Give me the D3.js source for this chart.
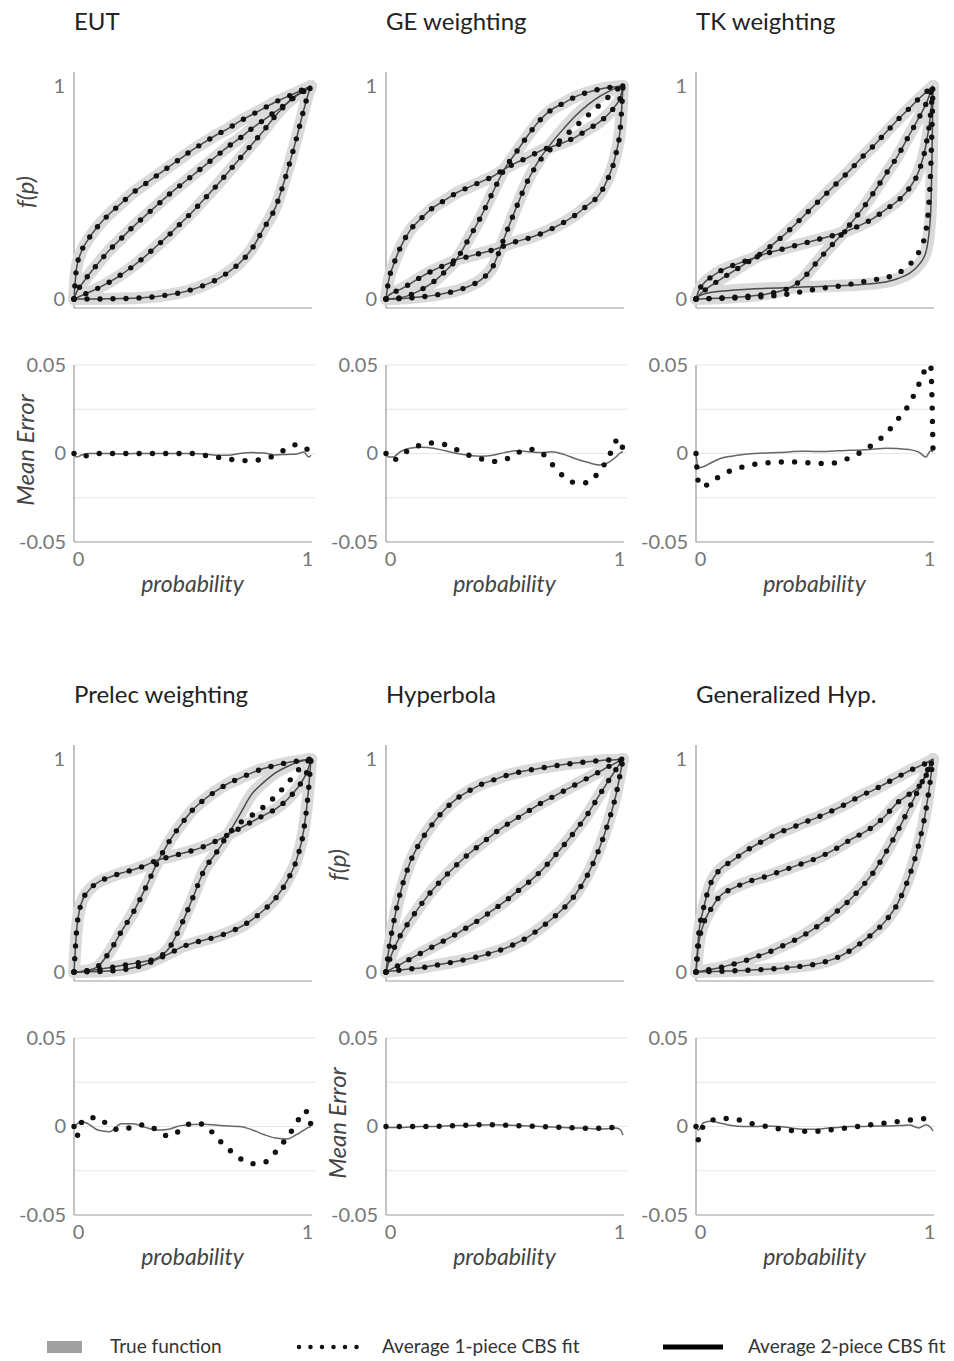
<!DOCTYPE html>
<html>
<head>
<meta charset="utf-8">
<script src="https://cdn.jsdelivr.net/npm/d3@7"></script>
<style>
  body { margin: 0; background: #fff; }
  text { font-family: Lato, "Open Sans", sans-serif; }
</style>
</head>
<body>
<svg id="chart" width="954" height="1361"></svg>
<script>
// probability grid shared by every series
const P = [0, .01, .03, .06, .1, .15, .2, .25, .3, .35, .4, .45, .5, .55, .6, .65, .7, .75, .8, .85, .9, .94, .97, .99, 1];

const titles = ["EUT", "GE weighting", "TK weighting", "Prelec weighting", "Hyperbola", "Generalized Hyp."];

// true functions f(p), four per panel
const eutTrue = [
  [0, .14, .22, .28, .34, .40, .45, .50, .54, .58, .62, .66, .70, .735, .77, .80, .835, .865, .895, .925, .95, .97, .985, .995, 1],
  [0, .03, .065, .11, .165, .23, .285, .34, .39, .44, .49, .535, .58, .625, .67, .715, .755, .8, .84, .88, .92, .955, .975, .99, 1],
  [0, .005, .015, .03, .05, .08, .115, .155, .2, .25, .30, .355, .41, .47, .53, .595, .66, .725, .79, .86, .92, .96, .98, .995, 1],
  [0, 0, 0, 0, 0, .001, .002, .004, .007, .012, .02, .03, .045, .065, .09, .125, .17, .235, .33, .43, .60, .76, .89, .97, 1]
];
const geTrue = [
  [0, .08, .155, .24, .32, .38, .43, .465, .50, .525, .55, .575, .61, .64, .665, .695, .715, .735, .76, .795, .83, .87, .91, .95, 1],
  [0, 0, .002, .006, .018, .045, .08, .13, .19, .285, .385, .50, .61, .69, .77, .84, .89, .92, .95, .97, .985, .993, .997, .999, 1],
  [0, .015, .03, .045, .07, .105, .135, .16, .185, .20, .215, .23, .25, .27, .285, .305, .33, .36, .395, .44, .49, .575, .68, .82, 1],
  [0, 0, 0, .002, .005, .01, .017, .027, .04, .06, .09, .15, .29, .43, .56, .66, .735, .80, .86, .91, .95, .975, .99, .997, 1]
];
const tkTrue = [
  [0, .015, .035, .06, .09, .125, .16, .195, .235, .28, .33, .385, .44, .495, .55, .605, .665, .72, .78, .84, .895, .94, .97, .99, 1],
  [0, .035, .07, .10, .13, .155, .175, .195, .215, .23, .245, .26, .275, .29, .305, .325, .35, .38, .42, .46, .52, .60, .72, .87, 1],
  [0, 0, .001, .002, .004, .007, .011, .016, .024, .035, .055, .095, .16, .225, .285, .35, .42, .50, .585, .67, .77, .85, .915, .97, 1],
  [0, .012, .022, .03, .036, .041, .045, .048, .05, .052, .054, .056, .058, .06, .062, .065, .068, .073, .08, .095, .12, .16, .22, .4, 1]
];
const prelecTrue = [
  [0, .18, .32, .38, .42, .445, .465, .48, .50, .525, .54, .555, .57, .59, .615, .645, .675, .705, .735, .765, .81, .86, .91, .96, 1],
  [0, 0, .002, .008, .025, .095, .19, .28, .39, .51, .61, .69, .76, .81, .85, .885, .91, .935, .955, .97, .983, .99, .995, .999, 1],
  [0, 0, .002, .006, .012, .02, .03, .04, .05, .065, .11, .215, .345, .48, .56, .645, .74, .835, .89, .935, .965, .983, .993, .998, 1],
  [0, 0, 0, .001, .002, .005, .01, .02, .035, .06, .085, .115, .135, .15, .165, .185, .21, .245, .29, .345, .43, .53, .67, .86, 1]
];
const hypTrue = [
  [0, .09, .22, .37, .51, .62, .70, .765, .815, .85, .88, .90, .92, .935, .947, .957, .966, .974, .981, .987, .992, .995, .997, .999, 1],
  [0, .04, .10, .17, .24, .32, .39, .45, .505, .555, .60, .645, .685, .72, .755, .79, .82, .85, .88, .91, .94, .965, .982, .994, 1],
  [0, .006, .018, .035, .06, .09, .12, .15, .18, .215, .25, .29, .33, .375, .42, .47, .53, .595, .665, .74, .83, .90, .95, .985, 1],
  [0, .002, .005, .009, .014, .02, .03, .04, .05, .062, .075, .092, .11, .135, .165, .205, .25, .30, .365, .455, .58, .71, .83, .94, 1]
];
const genhypTrue = [
  [0, .16, .29, .41, .48, .52, .56, .595, .625, .655, .675, .70, .72, .745, .77, .80, .83, .855, .885, .915, .945, .965, .98, .993, 1],
  [0, .12, .22, .29, .355, .39, .415, .435, .45, .47, .49, .51, .53, .555, .585, .62, .65, .685, .735, .795, .835, .87, .92, .97, 1],
  [0, .002, .006, .012, .02, .035, .05, .07, .09, .115, .14, .17, .205, .245, .29, .34, .40, .47, .56, .66, .77, .86, .93, .98, 1],
  [0, 0, .001, .002, .003, .005, .007, .01, .013, .017, .022, .028, .036, .05, .07, .10, .14, .185, .24, .32, .45, .60, .76, .91, 1]
];

// average 1-piece fits where they visibly leave the true function (null = same as true)
const geFit1 = [null, null, null,
  [0, 0, 0, .002, .005, .01, .017, .027, .04, .06, .09, .15, .29, .43, .56, .65, .71, .76, .81, .86, .91, .95, .98, .995, 1]];
const tkFit1 = [null, null, null,
  [0, 0, .001, .002, .003, .004, .006, .009, .013, .018, .025, .035, .045, .053, .06, .069, .08, .09, .1, .12, .16, .22, .32, .6, 1]];
const prelecFit1 = [null, null,
  [0, 0, .002, .006, .012, .02, .03, .04, .05, .065, .11, .215, .345, .48, .56, .645, .70, .735, .775, .825, .885, .94, .975, .993, 1],
  null];

// mean error: 1-piece (dots) and 2-piece (line)
const eutErr1 = [0, -.001, -.002, -.001, 0, 0, 0, 0, 0, 0, 0, 0, 0, -.001, -.002, -.003, -.004, -.004, -.003, -.001, .003, .005, .004, .002, .002];
const eutErr2 = [0, -.002, -.001, 0, 0, 0, -.0003, 0, 0, 0, 0, 0, 0, -.0003, -.001, -.001, 0, .0005, .0003, -.0008, -.0005, -.0003, .0008, -.002, -.001];
const geErr1 = [0, -.002, -.004, -.001, .002, .005, .006, .005, .002, -.001, -.003, -.0045, -.0035, 0, .0025, .001, -.006, -.013, -.0165, -.0165, -.01, -.002, .007, .008, .001];
const geErr2 = [0, -.002, -.002, .001, .003, .0035, .003, .0015, 0, -.001, -.0015, -.001, .0005, .0015, .001, .0005, .001, -.0005, -.003, -.005, -.0065, -.005, -.002, .0005, .001];
const tkErr1 = [0, -.016, -.019, -.016, -.013, -.0095, -.0075, -.006, -.0053, -.0048, -.0047, -.005, -.0055, -.0056, -.005, -.0022, .001, .0055, .011, .019, .028, .039, .048, .05, .002];
const tkErr2 = [0, -.008, -.0075, -.0055, -.003, -.0015, -.0005, 0, .0003, .0005, .001, .0013, .0012, .0012, .0015, .0018, .002, .0025, .003, .0028, .0022, .0008, -.002, .0015, .001];
const prelecErr1 = [0, -.006, .002, .005, .005, 0, -.002, 0, .001, -.002, -.0055, -.002, .002, .001, -.006, -.0125, -.018, -.021, -.0205, -.0145, -.006, .002, .0088, .0075, 0];
const prelecErr2 = [0, .001, .003, .0015, -.002, -.003, .0015, .0015, -.0005, -.002, -.0015, .0005, .0012, .0013, .0008, .0003, 0, -.0018, -.0045, -.0065, -.007, -.0045, -.002, -.0005, 0];
const hypErr1 = [0, 0, 0, 0, 0, 0, 0, .0003, .0005, .0008, .001, .001, .0008, .0005, .0003, 0, -.0003, -.0005, -.0008, -.001, -.001, -.0008, 0, .001, 0];
const hypErr2 = [0, -.0005, -.0005, -.0005, -.0003, 0, 0, .0003, .0005, .0006, .0008, .001, .0008, .0005, .0003, 0, -.0003, -.0005, -.0008, -.001, -.0015, -.0012, -.0008, -.002, -.005];
const genhypErr1 = [0, -.0075, 0, .003, .0045, .0045, .003, .0012, 0, -.0013, -.0022, -.0027, -.0028, -.0022, -.0013, -.0007, .0004, .0012, .002, .0028, .0036, .0042, .0045, .0047, .0045];
const genhypErr2 = [0, -.002, .002, .003, .002, .0005, 0, 0, .0003, 0, -.0008, -.0015, -.0015, -.001, -.0005, 0, 0, .0003, .0003, .0005, .0008, -.0008, .001, -.0005, -.0025];

const errTicks = [-0.05, 0, 0.05];
const errTickLabels = ["-0.05", "0", "0.05"];
const gridVals = [0.05, 0.025, 0, -0.025];
const legendLabels = ["True function", "Average 1-piece CBS fit", "Average 2-piece CBS fit"];

const panels = [
  {truth: eutTrue, fit1: [null, null, null, null], e1: eutErr1, e2: eutErr2, fp: true, me: true},
  {truth: geTrue, fit1: geFit1, e1: geErr1, e2: geErr2},
  {truth: tkTrue, fit1: tkFit1, e1: tkErr1, e2: tkErr2},
  {truth: prelecTrue, fit1: prelecFit1, e1: prelecErr1, e2: prelecErr2},
  {truth: hypTrue, fit1: [null, null, null, null], e1: hypErr1, e2: hypErr2, fp: true, me: true},
  {truth: genhypTrue, fit1: [null, null, null, null], e1: genhypErr1, e2: genhypErr2}
];

const svg = d3.select("#chart");
const colX = [74, 386, 696];
const rowTop = [0, 673];
const plotW = 237;

const x = d3.scaleLinear().domain([0, 1]).range([0, plotW]);
const yf = d3.scaleLinear().domain([0, 1]).range([299, 86]);
const ye = d3.scaleLinear().domain([-0.05, 0.05]).range([542, 365]);

const fLine = d3.line().x((d, i) => x(P[i])).y(d => yf(d)).curve(d3.curveMonotoneX);
const eLine = d3.line().x((d, i) => x(P[i])).y(d => ye(d)).curve(d3.curveMonotoneX);

const BAND = "#dadada", THIN = "#4a4a4a", DOT = "#111";
const TICK_FS = 20, LABEL_FS = 23;

panels.forEach((pn, i) => {
  const g = svg.append("g")
    .attr("transform", "translate(" + colX[i % 3] + "," + rowTop[Math.floor(i / 3)] + ")");

  g.append("text").attr("x", 0).attr("y", 30)
    .attr("font-size", 24).attr("fill", "#222").text(titles[i]);

  // ---- f(p) plot ----
  g.append("line").attr("x1", 0).attr("x2", 0).attr("y1", 72).attr("y2", 308)
    .attr("stroke", "#999").attr("stroke-width", 1.2);
  g.append("line").attr("x1", 0).attr("x2", plotW + 1).attr("y1", 308).attr("y2", 308)
    .attr("stroke", "#999").attr("stroke-width", 1.2);

  const ya = g.append("g").call(d3.axisLeft(yf).tickValues([0, 1]).tickFormat(d3.format("d")).tickSize(0).tickPadding(9));
  ya.select(".domain").remove();
  ya.selectAll("text").attr("font-size", TICK_FS).attr("fill", "#777").attr("font-family", "Lato, sans-serif");

  g.selectAll(".band").data(pn.truth).enter().append("path")
    .attr("d", fLine).attr("fill", "none").attr("stroke", BAND)
    .attr("stroke-width", 12).attr("stroke-linecap", "round").attr("stroke-linejoin", "round");
  g.selectAll(".thin").data(pn.truth).enter().append("path")
    .attr("d", fLine).attr("fill", "none").attr("stroke", THIN).attr("stroke-width", 1.5);
  g.selectAll(".dots").data(pn.truth.map((t, k) => pn.fit1[k] || t)).enter().append("path")
    .attr("d", fLine).attr("fill", "none").attr("stroke", DOT).attr("stroke-width", 5.4)
    .attr("stroke-linecap", "round").attr("stroke-dasharray", "0 13");

  if (pn.fp) {
    g.append("text").attr("transform", "translate(-40,192) rotate(-90)")
      .attr("text-anchor", "middle").attr("font-size", LABEL_FS + 1).attr("font-style", "italic")
      .attr("fill", "#444").text("f(p)");
  }

  // ---- mean error plot ----
  g.selectAll(".grid").data(gridVals).enter().append("line")
    .attr("x1", 0).attr("x2", plotW + 4).attr("y1", d => ye(d)).attr("y2", d => ye(d))
    .attr("stroke", "#e6e6e6").attr("stroke-width", 1.2);
  g.append("line").attr("x1", 0).attr("x2", plotW + 1).attr("y1", ye(-0.05)).attr("y2", ye(-0.05))
    .attr("stroke", "#999").attr("stroke-width", 1.2);
  g.append("line").attr("x1", 0).attr("x2", 0).attr("y1", ye(0.05)).attr("y2", ye(-0.05))
    .attr("stroke", "#999").attr("stroke-width", 1.2);

  const ea = g.append("g").call(d3.axisLeft(ye).tickValues(errTicks)
    .tickFormat((d, k) => errTickLabels[k]).tickSize(0).tickPadding(8));
  ea.select(".domain").remove();
  ea.selectAll("text").attr("font-size", TICK_FS).attr("fill", "#777").attr("font-family", "Lato, sans-serif");

  const xa = g.append("g").attr("transform", "translate(0," + ye(-0.05) + ")")
    .call(d3.axisBottom(x).tickValues([0, 1]).tickFormat(d3.format("d")).tickSize(0).tickPadding(10));
  xa.select(".domain").remove();
  xa.selectAll("text").attr("font-size", TICK_FS).attr("fill", "#777").attr("font-family", "Lato, sans-serif")
    .attr("dx", d => d === 0 ? 4 : -4);

  g.append("path").datum(pn.e2).attr("d", eLine).attr("fill", "none")
    .attr("stroke", "#666").attr("stroke-width", 1.5);
  g.append("path").datum(pn.e1).attr("d", eLine).attr("fill", "none")
    .attr("stroke", DOT).attr("stroke-width", 5.4).attr("stroke-linecap", "round")
    .attr("stroke-dasharray", "0 13.3");

  g.append("text").attr("x", plotW / 2).attr("y", 592).attr("text-anchor", "middle")
    .attr("font-size", LABEL_FS).attr("font-style", "italic").attr("fill", "#444").text("probability");

  if (pn.me) {
    g.append("text").attr("transform", "translate(-40,450) rotate(-90)")
      .attr("text-anchor", "middle").attr("font-size", LABEL_FS + 1).attr("font-style", "italic")
      .attr("fill", "#444").text("Mean Error");
  }
});

// ---- legend ----
const lg = svg.append("g").attr("transform", "translate(0,1347)");
lg.append("rect").attr("x", 47).attr("y", -6).attr("width", 35).attr("height", 12).attr("fill", "#a0a0a0");
lg.append("line").attr("x1", 299).attr("x2", 357).attr("y1", 0).attr("y2", 0)
  .attr("stroke", DOT).attr("stroke-width", 4.5).attr("stroke-linecap", "round").attr("stroke-dasharray", "0 11.5");
lg.append("line").attr("x1", 663).attr("x2", 723).attr("y1", 0).attr("y2", 0)
  .attr("stroke", "#000").attr("stroke-width", 5);
lg.selectAll(".lt").data(legendLabels).enter().append("text")
  .attr("x", (d, k) => [110, 382, 748][k]).attr("y", 6)
  .attr("font-size", 19).attr("fill", "#333").text(d => d);
</script>
</body>
</html>
